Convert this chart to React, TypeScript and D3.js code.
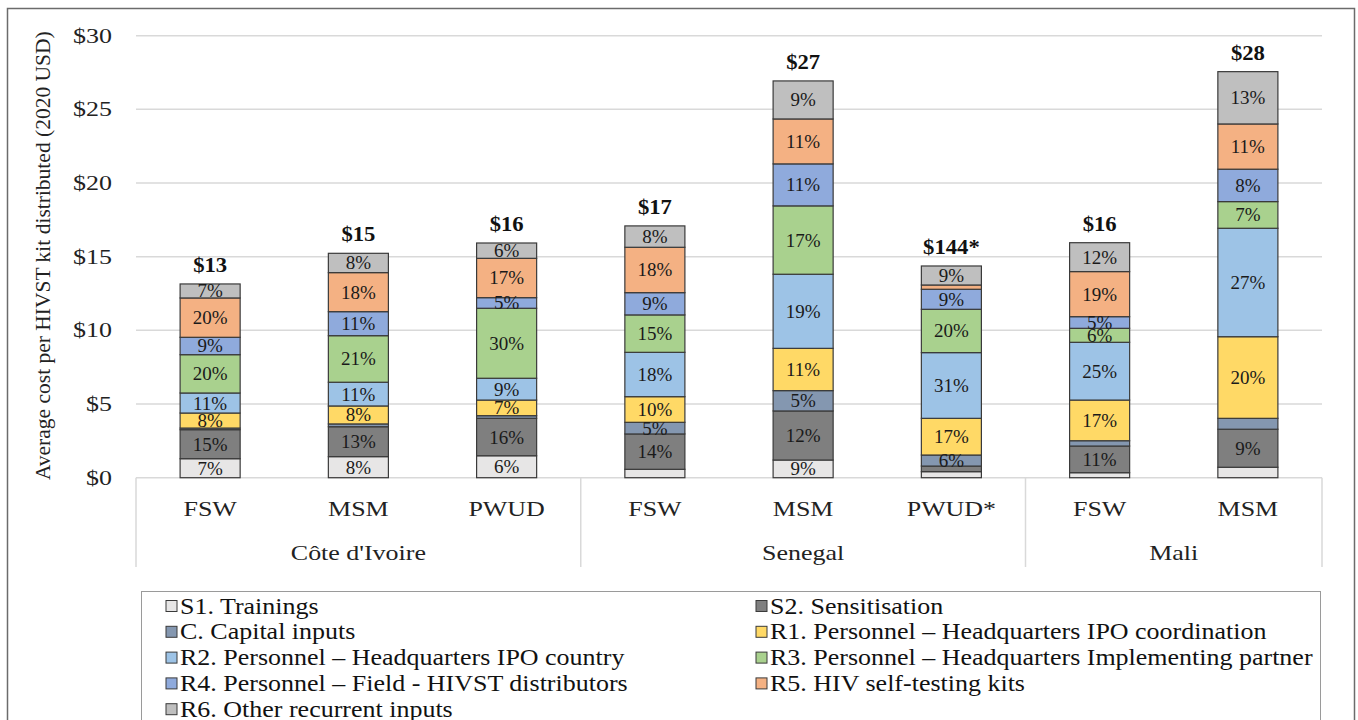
import React from "react";
import * as d3 from "d3";

// bar groups
const categories = ["FSW", "MSM", "PWUD", "FSW", "MSM", "PWUD*", "FSW", "MSM"];
const countries = ["Côte d'Ivoire", "Senegal", "Mali"];
const countrySpans = [3, 3, 2];
const totals = ["$13", "$15", "$16", "$17", "$27", "$144*", "$16", "$28"];

// cost components, USD per kit
const seriesKeys = ["S1", "S2", "C", "R1", "R2", "R3", "R4", "R5", "R6"];
const seriesNames = [
  "S1. Trainings",
  "S2. Sensitisation",
  "C. Capital inputs",
  "R1. Personnel – Headquarters IPO coordination",
  "R2. Personnel – Headquarters IPO country",
  "R3. Personnel – Headquarters Implementing partner",
  "R4. Personnel – Field - HIVST distributors",
  "R5. HIV self-testing kits",
  "R6. Other recurrent inputs",
];
const seriesColors = ["#e7e6e6", "#7f7f7f", "#8497b0", "#ffd966", "#9dc3e6", "#a9d18e", "#8faadc", "#f4b183", "#bfbfbf"];

const S1 = [1.29, 1.43, 1.49, 0.57, 1.2, 0.41, 0.34, 0.71];
const S2 = [1.97, 2.03, 2.54, 2.4, 3.33, 0.38, 1.81, 2.58];
const C = [0.11, 0.19, 0.18, 0.79, 1.38, 0.75, 0.36, 0.74];
const R1 = [1.02, 1.22, 1.06, 1.74, 2.87, 2.49, 2.76, 5.54];
const R2 = [1.36, 1.61, 1.48, 3.01, 5.03, 4.46, 3.92, 7.36];
const R3 = [2.6, 3.16, 4.75, 2.54, 4.64, 2.94, 0.95, 1.81];
const R4 = [1.18, 1.63, 0.72, 1.51, 2.85, 1.36, 0.79, 2.2];
const R5 = [2.67, 2.65, 2.67, 3.08, 3.05, 0.29, 3.06, 3.07];
const R6 = [0.95, 1.31, 1.04, 1.45, 2.58, 1.29, 1.96, 3.55];

// percentage labels as printed in the segments
const S1Lab = ["7%", "8%", "6%", "", "9%", "", "", ""];
const S2Lab = ["15%", "13%", "16%", "14%", "12%", "", "11%", "9%"];
const CLab = ["", "", "", "5%", "5%", "6%", "", ""];
const R1Lab = ["8%", "8%", "7%", "10%", "11%", "17%", "17%", "20%"];
const R2Lab = ["11%", "11%", "9%", "18%", "19%", "31%", "25%", "27%"];
const R3Lab = ["20%", "21%", "30%", "15%", "17%", "20%", "6%", "7%"];
const R4Lab = ["9%", "11%", "5%", "9%", "11%", "9%", "5%", "8%"];
const R5Lab = ["20%", "18%", "17%", "18%", "11%", "", "19%", "11%"];
const R6Lab = ["7%", "8%", "6%", "8%", "9%", "9%", "12%", "13%"];

const yTicks = [0, 5, 10, 15, 20, 25, 30];

const values = [S1, S2, C, R1, R2, R3, R4, R5, R6];
const labels = [S1Lab, S2Lab, CLab, R1Lab, R2Lab, R3Lab, R4Lab, R5Lab, R6Lab];

const FONT = "'Liberation Serif', 'Times New Roman', serif";
const SX = 1.18; // text in the source is a bit stretched horizontally

const App = () => {
  const width = 1358;
  const height = 720;
  const plot = { left: 136, right: 1322, top: 35.7, bottom: 477.7 };

  const x = d3
    .scaleBand<number>()
    .domain(categories.map((_, i) => i))
    .range([plot.left, plot.right])
    .paddingInner(0.595)
    .paddingOuter(0.2975);
  const step = x.step();
  const y = d3.scaleLinear().domain([0, 30]).range([plot.bottom, plot.top]);

  const rows = categories.map((_, i) => {
    const r: any = { i };
    seriesKeys.forEach((k, s) => (r[k] = values[s][i]));
    return r;
  });
  const stacked = d3.stack<any>().keys(seriesKeys)(rows);

  const txt = (x0: number, y0: number, sx = SX) => `translate(${x0},${y0}) scale(${sx},1)`;

  // country boundaries along the category axis
  let acc = 0;
  const bounds = [plot.left];
  const countryCenters: number[] = [];
  countrySpans.forEach((n) => {
    countryCenters.push(plot.left + step * (acc + n / 2));
    acc += n;
    bounds.push(plot.left + step * acc);
  });

  return (
    <svg
      width={width}
      height={height}
      style={{ position: "absolute", left: 0, top: 0, background: "#fff" }}
      fontFamily={FONT}
    >
      <rect x={7.5} y={8.5} width={1347} height={730} fill="#fff" stroke="#6b6b6b" strokeWidth={1.5} />

      {/* grid */}
      {yTicks.map((t) => (
        <g key={t}>
          <line x1={plot.left} x2={plot.right} y1={y(t)} y2={y(t)} stroke="#d9d9d9" strokeWidth={1.5} />
          <text transform={txt(112, y(t) + 7)} textAnchor="end" fontSize={22} fill="#222">
            {d3.format("$,")(t)}
          </text>
        </g>
      ))}

      <text
        transform={`translate(50, ${(plot.top + plot.bottom) / 2 - 1}) rotate(-90)`}
        textAnchor="middle"
        fontSize={21.5}
        fill="#222"
      >
        Average cost per HIVST kit distributed (2020 USD)
      </text>

      {/* stacked bars */}
      {stacked.map((layer, s) => (
        <g key={seriesKeys[s]}>
          {layer.map((d, i) => (
            <rect
              key={i}
              x={x(i)}
              y={y(d[1])}
              width={x.bandwidth()}
              height={y(d[0]) - y(d[1])}
              fill={seriesColors[s]}
              stroke="#3a3a3a"
              strokeWidth={1.2}
            />
          ))}
        </g>
      ))}
      {stacked.map((layer, s) => (
        <g key={"l" + seriesKeys[s]}>
          {layer.map((d, i) =>
            labels[s][i] ? (
              <text
                key={i}
                x={(x(i) as number) + x.bandwidth() / 2}
                y={(y(d[0]) + y(d[1])) / 2 + 6.5}
                textAnchor="middle"
                fontSize={19}
                fill="#1a1a1a"
              >
                {labels[s][i]}
              </text>
            ) : null
          )}
        </g>
      ))}
      {stacked[stacked.length - 1].map((d, i) => (
        <text
          key={i}
          transform={txt((x(i) as number) + x.bandwidth() / 2, y(d[1]) - 12, 1.08)}
          textAnchor="middle"
          fontSize={21}
          fontWeight="bold"
          fill="#111"
        >
          {totals[i]}
        </text>
      ))}

      {/* category axis */}
      {bounds.map((b, i) => (
        <line key={i} x1={b} x2={b} y1={plot.bottom} y2={567} stroke="#d9d9d9" strokeWidth={1.5} />
      ))}
      {categories.map((c, i) => (
        <text
          key={i}
          transform={txt((x(i) as number) + x.bandwidth() / 2, 516)}
          textAnchor="middle"
          fontSize={22}
          fill="#222"
        >
          {c}
        </text>
      ))}
      {countries.map((c, i) => (
        <text key={c} transform={txt(countryCenters[i], 560)} textAnchor="middle" fontSize={22} fill="#222">
          {c}
        </text>
      ))}

      {/* legend */}
      <rect x={141.5} y={591.5} width={1179} height={140} fill="#fff" stroke="#9a9a9a" strokeWidth={1} />
      {seriesKeys.map((k, s) => {
        const col = s % 2;
        const row = Math.floor(s / 2);
        const lx = col === 0 ? 166 : 756;
        const ly = 606 + row * 25.8;
        return (
          <g key={k}>
            <rect x={lx} y={ly - 5.5} width={11} height={11} fill={seriesColors[s]} stroke="#3a3a3a" strokeWidth={1} />
            <text transform={txt(lx + 14, ly + 7.5, 1.13)} fontSize={23} fill="#111">
              {seriesNames[s]}
            </text>
          </g>
        );
      })}
    </svg>
  );
};

export default App;
